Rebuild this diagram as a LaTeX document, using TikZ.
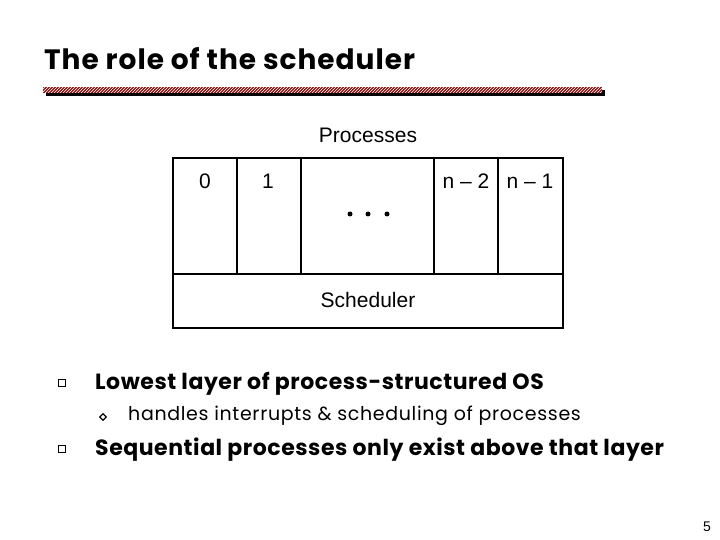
\documentclass[tikz,border=0pt]{standalone}
\usepackage{fontspec}
\setmainfont{Poppins}
\newfontfamily\diag{Liberation Sans}
\usetikzlibrary{patterns,shapes.geometric}
\definecolor{barred}{HTML}{8B1010}
\tikzset{
  cell/.style={draw=black, line width=1.6pt},
  dlabel/.style={font=\diag\fontsize{21}{24}\selectfont, inner sep=0pt},
  bullettext/.style={anchor=west, inner sep=0pt, font=\bfseries\fontsize{22}{26}\selectfont\addfontfeature{LetterSpace=2.5}},
  subtext/.style={anchor=west, inner sep=0pt, font=\fontsize{19}{22}\selectfont\addfontfeature{LetterSpace=3.5}},
  sqbullet/.style={draw=black, line width=0.7pt, minimum size=7pt, inner sep=0pt},
  dmbullet/.style={draw=black, line width=1.2pt, fill=white, diamond, minimum size=7pt, inner sep=0pt}
}
\begin{document}
\begin{tikzpicture}[x=1pt,y=-1pt]
\useasboundingbox (0,0) rectangle (720,540);
% title
\node[anchor=base west, inner sep=0pt, font=\bfseries\fontsize{28}{32}\selectfont\addfontfeature{LetterSpace=3.5}] (title) at (44,70) {The role of the scheduler};
% bar with shadow
\fill[black] (46,90) rectangle (605,96);
\fill[barred] (43,87) rectangle (602,93);
\fill[pattern=north east lines, pattern color=white] (43,87) rectangle (602,93);
% diagram
\node[dlabel] (proc) at (368,135) {Processes};
\draw[cell] (173,158) rectangle (563,328);
\draw[cell] (173,274) -- (563,274);
\draw[cell] (237,158) -- (237,274);
\draw[cell] (301,158) -- (301,274);
\draw[cell] (434,158) -- (434,274);
\draw[cell] (498,158) -- (498,274);
\node[dlabel] (p0) at (205,181) {0};
\node[dlabel] (p1) at (268,181) {1};
\node[dlabel] (pn2) at (466,181) {n – 2};
\node[dlabel] (pn1) at (530,181) {n – 1};
\fill (350,214) circle (2.5pt) (368,214) circle (2.5pt) (387,214) circle (2.5pt);
\node[dlabel] (sched) at (368,300) {Scheduler};
% bullets
\node[sqbullet] (b1) at (62,383) {};
\node[bullettext] (t1) at (95,384) {Lowest layer of process-structured OS};
\node[dmbullet] (b2) at (103,417) {};
\node[subtext] (t2) at (128,416) {handles interrupts \& scheduling of processes};
\node[sqbullet] (b3) at (62,449) {};
\node[bullettext] (t3) at (95,450) {Sequential processes only exist above that layer};
\node[font=\diag\fontsize{14}{16}\selectfont, inner sep=0pt] (pg) at (707,527) {5};
\end{tikzpicture}
\end{document}
